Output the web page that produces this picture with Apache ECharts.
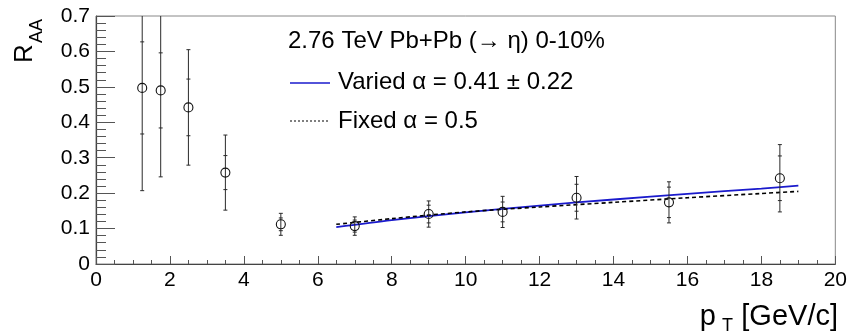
<!DOCTYPE html>
<html>
<head>
<meta charset="utf-8">
<script src="https://cdn.jsdelivr.net/npm/echarts@6/dist/echarts.min.js"></script>
<style>html,body{margin:0;padding:0;background:#fff}#c{width:850px;height:332px}</style>
</head>
<body>
<div id="c"></div>
<script>
// ---- data ----
const pt = [1.25, 1.75, 2.5, 3.5, 5, 7, 9, 11, 13, 15.5, 18.5];
const raa = [0.497, 0.490, 0.442, 0.258, 0.112, 0.107, 0.141, 0.147, 0.187, 0.174, 0.242];
const errInner = [0.130, 0.106, 0.080, 0.048, 0.018, 0.017, 0.025, 0.028, 0.038, 0.043, 0.063];
const errOuter = [0.290, 0.244, 0.163, 0.106, 0.031, 0.026, 0.037, 0.044, 0.060, 0.058, 0.095];

const fitX = [6.5, 8, 10, 12, 14, 16, 18, 19];
const variedFit = [0.104, 0.124, 0.146, 0.165, 0.182, 0.198, 0.213, 0.221];
const fixedFit = [0.112, 0.128, 0.147, 0.161, 0.174, 0.187, 0.199, 0.205];

const xTicks = [0, 2, 4, 6, 8, 10, 12, 14, 16, 18, 20];
const yTicks = ['0', '0.1', '0.2', '0.3', '0.4', '0.5', '0.6', '0.7'];

const headerText = '2.76 TeV Pb+Pb (\u2192 \u03b7) 0-10%';
const variedText = 'Varied \u03b1 = 0.41 \u00b1 0.22';
const fixedText = 'Fixed \u03b1 = 0.5';

// ---- chart ----
const FONT = '"Liberation Sans", Arial, Helvetica, sans-serif';
const chart = echarts.init(document.getElementById('c'), null, {renderer: 'canvas'});

const pointData = pt.map((x, i) => [x, raa[i], errInner[i], errOuter[i]]);

function renderErr(params, api) {
  const x = api.value(0), y = api.value(1), ei = api.value(2), eo = api.value(3);
  const c = api.coord([x, y]);
  const ot = api.coord([x, y + eo]), ob = api.coord([x, y - eo]);
  const it = api.coord([x, y + ei]), ib = api.coord([x, y - ei]);
  const cap = 2;
  const st = {stroke: '#2a2a2a', lineWidth: 1};
  const ln = (x1, y1, x2, y2) => ({type: 'line', shape: {x1, y1, x2, y2}, style: st});
  return {
    type: 'group',
    children: [
      ln(c[0], ot[1], c[0], ob[1]),
      ln(c[0] - cap, ot[1], c[0] + cap, ot[1]),
      ln(c[0] - cap, ob[1], c[0] + cap, ob[1]),
      ln(c[0] - cap, it[1], c[0] + cap, it[1]),
      ln(c[0] - cap, ib[1], c[0] + cap, ib[1]),
      {type: 'circle', shape: {cx: c[0], cy: c[1], r: 4.5},
       style: {fill: 'none', stroke: '#111', lineWidth: 1.1}}
    ]
  };
}

const option = {
  animation: false,
  backgroundColor: '#fff',
  grid: {left: 96, right: 13, top: 16, bottom: 68, show: true,
         borderColor: '#888', borderWidth: 1, backgroundColor: 'transparent'},
  xAxis: {
    type: 'value', min: 0, max: 20, interval: 2,
    axisLine: {show: true, lineStyle: {color: '#444', width: 1.2}},
    axisTick: {show: true, inside: true, length: 8, lineStyle: {color: '#555'}},
    minorTick: {show: true, splitNumber: 4, length: 4, lineStyle: {color: '#555'}},
    splitLine: {show: false},
    axisLabel: {fontSize: 21, color: '#000', fontFamily: FONT, margin: 6,
                formatter: v => String(xTicks[xTicks.indexOf(v)] ?? v)}
  },
  yAxis: {
    type: 'value', min: 0, max: 0.7, interval: 0.1,
    axisLine: {show: true, lineStyle: {color: '#444', width: 1.2}},
    axisTick: {show: true, inside: true, length: 19, lineStyle: {color: '#555'}},
    minorTick: {show: true, splitNumber: 5, length: 10, lineStyle: {color: '#555'}},
    splitLine: {show: false},
    axisLabel: {fontSize: 21, color: '#000', fontFamily: FONT, margin: 6,
                formatter: v => yTicks[Math.round(v * 10)]}
  },
  series: [
    {type: 'line', data: fitX.map((x, i) => [x, variedFit[i]]), smooth: 0.3,
     showSymbol: false, lineStyle: {color: '#1a1acc', width: 1.8}, z: 2},
    {type: 'line', data: fitX.map((x, i) => [x, fixedFit[i]]), smooth: 0.3,
     showSymbol: false, lineStyle: {color: '#000', width: 1.6, type: [4, 3]}, z: 3},
    {type: 'custom', data: pointData, renderItem: renderErr, clip: true, z: 4}
  ],
  graphic: [
    // y axis title R_AA (rotated)
    {type: 'text', x: 38, y: 63, rotation: Math.PI / 2,
     style: {text: 'R', font: '26px ' + FONT, fill: '#000', textAlign: 'left', textVerticalAlign: 'bottom'}},
    {type: 'text', x: 46, y: 43, rotation: Math.PI / 2,
     style: {text: 'AA', font: '18px ' + FONT, fill: '#000', textAlign: 'left', textVerticalAlign: 'bottom'}},
    // x axis title
    {type: 'text', x: 838, y: 331,
     style: {text: '[GeV/c]', font: '29px ' + FONT, fill: '#000', textAlign: 'right', textVerticalAlign: 'bottom'}},
    {type: 'text', x: 733, y: 335,
     style: {text: 'T', font: '18px ' + FONT, fill: '#000', textAlign: 'right', textVerticalAlign: 'bottom'}},
    {type: 'text', x: 716, y: 331,
     style: {text: 'p', font: '29px ' + FONT, fill: '#000', textAlign: 'right', textVerticalAlign: 'bottom'}},
    // legend
    {type: 'text', x: 288, y: 53,
     style: {text: headerText, font: '24px ' + FONT, fill: '#000', textAlign: 'left', textVerticalAlign: 'bottom'}},
    {type: 'line', shape: {x1: 290, y1: 83, x2: 330, y2: 83}, style: {stroke: '#1a1acc', lineWidth: 1.5}},
    {type: 'text', x: 338, y: 94,
     style: {text: variedText, font: '24px ' + FONT, fill: '#000', textAlign: 'left', textVerticalAlign: 'bottom'}},
    {type: 'line', shape: {x1: 290, y1: 121, x2: 330, y2: 121}, style: {stroke: '#000', lineWidth: 1, lineDash: [2, 2]}},
    {type: 'text', x: 338, y: 133,
     style: {text: fixedText, font: '24px ' + FONT, fill: '#000', textAlign: 'left', textVerticalAlign: 'bottom'}}
  ]
};
chart.setOption(option);
</script>
</body>
</html>
